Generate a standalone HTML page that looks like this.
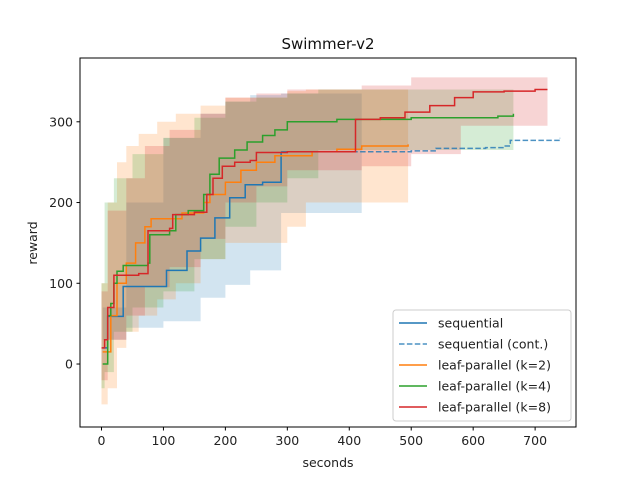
<!DOCTYPE html>
<html><head><meta charset="utf-8"><style>
body{margin:0;background:#fff}
svg{font-family:"DejaVu Sans","Liberation Sans",sans-serif}
</style></head><body>
<svg id="chart" width="640" height="480" viewBox="0 0 640 480">
<rect width="640" height="480" fill="#fff"/>
<g id="bands"></g>
<g id="lines"></g>
<g id="axes"></g>
</svg>
<script>
const seqT=[2,10,35,105,138,160,183,207,232,260,290];
const seqV=[20,59,96,116,140,156,181,206,222,225,263];
const seqBandT=[2,40,100,160,200,240,290,420];
const seqLo=[30,45,53,82,98,116,187,187];
const seqHi=[70,200,280,310,325,333,335,340];
const contT=[290,500,540,620,650,660,740];
const contV=[263,264,267,268,270,277,280];
const k2T=[2,15,25,40,55,70,80,130,165,175,200,225,250,280,340,380,420,495];
const k2V=[15,60,100,125,150,170,180,187,200,210,225,240,250,258,263,266,270,272];
const k2BandT=[0,10,25,40,60,90,120,160,200,300,330,495];
const k2Lo=[-50,-30,20,40,60,80,100,130,150,170,200,200];
const k2Hi=[100,200,250,270,285,300,310,320,330,338,340,340];
const k4T=[2,10,15,20,25,35,75,78,110,120,140,165,175,190,215,235,260,280,300,380,500,640,665];
const k4V=[0,60,75,100,115,122,125,160,165,185,190,210,235,255,265,275,283,290,300,303,305,307,310];
const k4BandT=[0,5,20,50,100,150,200,250,300,350,590,665];
const k4Lo=[-30,-10,40,70,90,130,170,200,230,265,265,265];
const k4Hi=[100,200,230,260,280,305,325,330,335,340,340,340];
const k8T=[0,5,10,20,60,75,110,115,150,170,180,195,215,240,250,300,410,450,490,530,570,600,650,700,720];
const k8V=[20,30,70,110,112,165,168,185,188,210,230,245,250,252,262,263,303,305,312,320,330,337,338,340,340];
const k8BandT=[0,10,40,70,110,160,200,250,300,420,500,580,720];
const k8Lo=[-20,30,60,95,120,155,200,220,240,245,260,295,300];
const k8Hi=[90,190,230,270,290,310,330,335,340,345,355,355,355];
const xTicks=[0,100,200,300,400,500,600,700];
const yTicks=[0,100,200,300];
const seriesNames=["sequential","sequential (cont.)","leaf-parallel (k=2)","leaf-parallel (k=4)","leaf-parallel (k=8)"];

const L=80,R=576,T=58,B=427;
const xMin=-34.7,xMax=766,yMin=-78,yMax=379;
const xs=v=>L+(v-xMin)/(xMax-xMin)*(R-L);
const ys=v=>B-(v-yMin)/(yMax-yMin)*(B-T);
const NS="http://www.w3.org/2000/svg";
function mk(tag,attrs,parent){const e=document.createElementNS(NS,tag);for(const k in attrs)e.setAttribute(k,attrs[k]);parent.appendChild(e);return e;}
function stepPts(t,v){let p=[];for(let i=0;i<t.length;i++){if(i>0)p.push([xs(t[i]),ys(v[i-1])]);p.push([xs(t[i]),ys(v[i])]);}return p;}
const bands=document.getElementById('bands'),lines=document.getElementById('lines'),axes=document.getElementById('axes');
function band(t,lo,hi,color,name){
  const up=stepPts(t,hi),dn=stepPts(t,lo).reverse();
  const d='M'+up.concat(dn).map(p=>p[0].toFixed(1)+','+p[1].toFixed(1)).join('L')+'Z';
  const e=mk('path',{d:d,fill:color,'fill-opacity':0.2,stroke:'none'},bands);
  
  
}
function line(t,v,color,name,dash){
  const d='M'+stepPts(t,v).map(p=>p[0].toFixed(1)+','+p[1].toFixed(1)).join('L');
  const e=mk('path',{d:d,fill:'none',stroke:color,'stroke-width':1.5},lines);
  if(dash){e.setAttribute('stroke-dasharray','5.5,2.4');e.setAttribute('stroke-opacity','0.8');}
  
  
}
band(seqBandT,seqLo,seqHi,'#1f77b4','sequential-band');
band(k2BandT,k2Lo,k2Hi,'#ff7f0e','k2-band');
band(k4BandT,k4Lo,k4Hi,'#2ca02c','k4-band');
band(k8BandT,k8Lo,k8Hi,'#d62728','k8-band');
line(seqT,seqV,'#1f77b4','sequential-line');
line(contT,contV,'#1f77b4','sequential-cont-line',true);
line(k2T,k2V,'#ff7f0e','k2-line');
line(k4T,k4V,'#2ca02c','k4-line');
line(k8T,k8V,'#d62728','k8-line');

let fr=mk('rect',{x:L,y:T,width:R-L,height:B-T,fill:'none',stroke:'#000','stroke-width':1},axes);


xTicks.forEach(v=>{
  mk('line',{x1:xs(v),x2:xs(v),y1:B,y2:B+3.5,stroke:'#000'},axes);
  const t=mk('text',{x:xs(v),y:B+18,'text-anchor':'middle','font-size':12.5,fill:'#222'},axes);t.textContent=v;
  
  
});
yTicks.forEach(v=>{
  mk('line',{x1:L-3.5,x2:L,y1:ys(v),y2:ys(v),stroke:'#000'},axes);
  const t=mk('text',{x:L-7,y:ys(v)+4.5,'text-anchor':'end','font-size':12.5,fill:'#222'},axes);t.textContent=v;
  
  
});
let tt=mk('text',{x:328,y:49,'text-anchor':'middle','font-size':15,fill:'#111'},axes);tt.textContent='Swimmer-v2';


let xl=mk('text',{x:328,y:467,'text-anchor':'middle','font-size':12.5,fill:'#222'},axes);xl.textContent='seconds';


let yl=mk('text',{x:0,y:0,'text-anchor':'middle','font-size':12.5,fill:'#222',transform:'translate(37,243) rotate(-90)'},axes);yl.textContent='reward';



const lg=mk('g',{},axes);


mk('rect',{x:393,y:310,width:178,height:111,rx:3,fill:'#fff','fill-opacity':0.8,stroke:'#ccc'},lg);
const cols=['#1f77b4','#1f77b4','#ff7f0e','#2ca02c','#d62728'];
seriesNames.forEach((n,i)=>{
  const y=323+i*21;
  const g=mk('g',{},lg);
  
  
  const ln=mk('line',{x1:399,x2:427,y1:y,y2:y,stroke:cols[i],'stroke-width':1.5},g);
  if(i==1){ln.setAttribute('stroke-dasharray','5.5,2.4');ln.setAttribute('stroke-opacity','0.8');}
  const t=mk('text',{x:438,y:y+4.5,'font-size':12.5,fill:'#222'},g);t.textContent=n;
});
</script>
</body></html>
